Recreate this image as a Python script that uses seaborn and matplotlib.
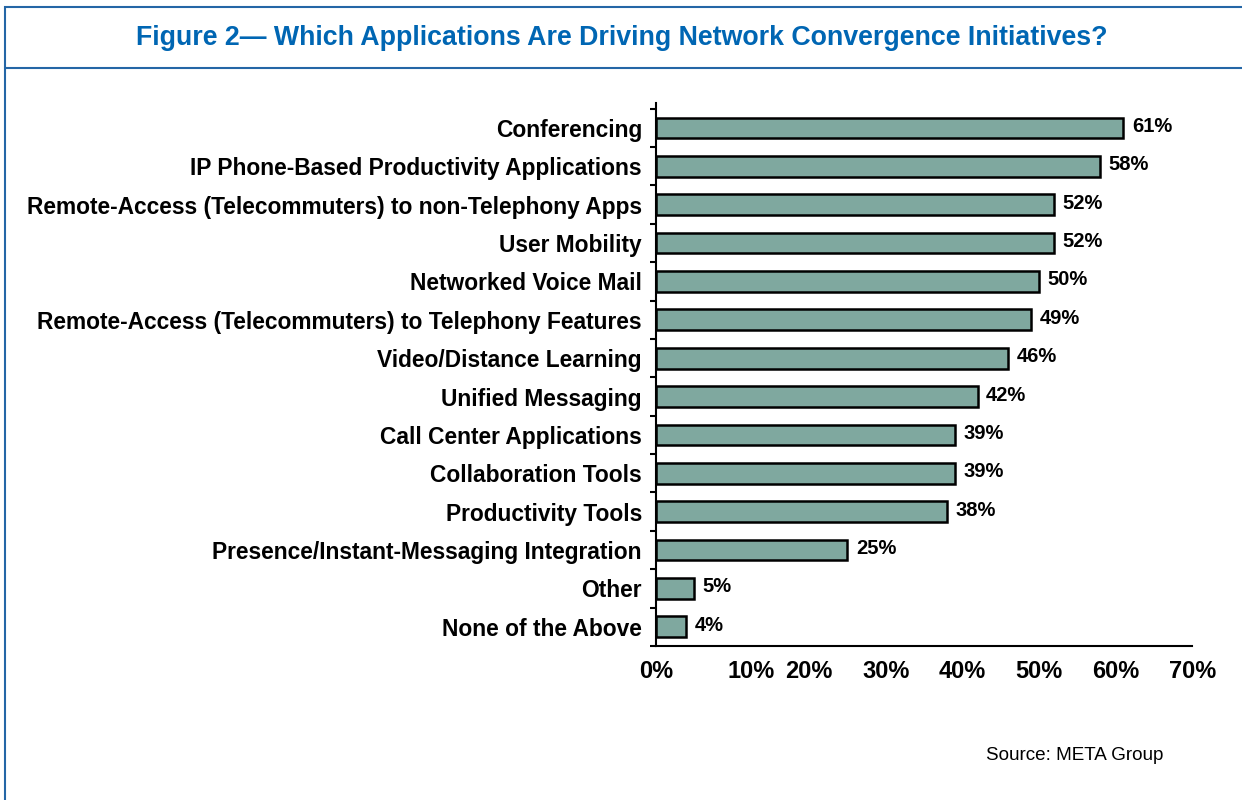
import matplotlib.pyplot as plt
import seaborn as sns
import pandas as pd
from matplotlib.patches import Rectangle
from matplotlib.lines import Line2D

# Data
applications = [
    'Conferencing',
    'IP Phone-Based Productivity Applications',
    'Remote-Access (Telecommuters) to non-Telephony Apps',
    'User Mobility',
    'Networked Voice Mail',
    'Remote-Access (Telecommuters) to Telephony Features',
    'Video/Distance Learning',
    'Unified Messaging',
    'Call Center Applications',
    'Collaboration Tools',
    'Productivity Tools',
    'Presence/Instant-Messaging Integration',
    'Other',
    'None of the Above',
]
shares = [61, 58, 52, 52, 50, 49, 46, 42, 39, 39, 38, 25, 5, 4]

# the original chart puts the "10%" tick a bit off the grid
tickValues = [0, 12.4, 20, 30, 40, 50, 60, 70]
tickLabels = ['0%', '10%', '20%', '30%', '40%', '50%', '60%', '70%']

df = pd.DataFrame({'app': applications, 'share': shares})

sns.set_style('white')
plt.rcParams['font.family'] = ['Liberation Sans', 'DejaVu Sans']
plt.rcParams['text.color'] = 'black'
plt.rcParams['xtick.color'] = 'black'
plt.rcParams['ytick.color'] = 'black'

fig = plt.figure(figsize=(12.42, 8), dpi=100)
ax = fig.add_axes([0.528, 0.1925, 0.432, 0.6788])

sns.barplot(data=df, x='share', y='app', orient='h', color='#7FA89F',
            saturation=1, width=0.54, edgecolor='black', linewidth=1.8, ax=ax)

ax.set_xlim(0, 70)
ax.set_ylim(len(applications) - 0.5, -0.65)
ax.set_xlabel('')
ax.set_ylabel('')

# value labels next to each bar
for i, v in enumerate(shares):
    ax.text(v + 1.1, i - 0.04, f'{v}%', va='center', ha='left',
            fontsize=14.5, fontweight='bold', color='black')

# x axis
ax.set_xticks(tickValues)
ax.set_xticklabels(tickLabels, fontsize=17, fontweight='bold')
ax.tick_params(axis='x', direction='in', length=6, width=1.5, pad=10)

# y axis: ticks between categories, labels on the categories
ax.set_yticks([i - 0.5 for i in range(len(applications) + 1)], minor=True)
ax.set_yticks(range(len(applications)))
ax.set_yticklabels(applications, fontsize=16.4, fontweight='bold')
ax.tick_params(axis='y', which='major', length=0, pad=10)
ax.tick_params(axis='y', which='minor', direction='out', length=4, width=1.5, left=True)

for side in ['top', 'right']:
    ax.spines[side].set_visible(False)
for side in ['left', 'bottom']:
    ax.spines[side].set_linewidth(1.5)
    ax.spines[side].set_color('black')

# frame and title band
frameColor = '#2466A6'
fig.patches.append(Rectangle((5 / 1242, -0.01), 1.02, 1 - 7 / 800 + 0.01,
                             transform=fig.transFigure, fill=False,
                             edgecolor=frameColor, linewidth=1.5))
fig.lines.append(Line2D([5 / 1242, 1], [1 - 68 / 800, 1 - 68 / 800],
                        transform=fig.transFigure, color=frameColor, linewidth=1.5))

fig.text(622 / 1242, 1 - 38 / 800,
         'Figure 2\u2014 Which Applications Are Driving Network Convergence Initiatives?',
         ha='center', va='center', fontsize=19.3, fontweight='bold', color='#0066B3')

fig.text(1163 / 1242, 1 - 755 / 800, 'Source: META Group', ha='right', va='center',
         fontsize=13.6, color='black')

fig.savefig('out.png', dpi=100)
